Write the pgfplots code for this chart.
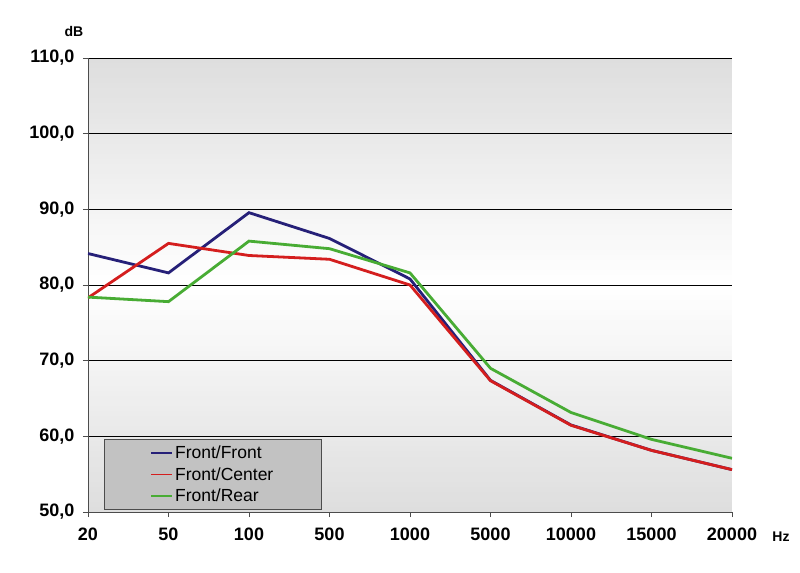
\documentclass[border=0pt]{standalone}
\usepackage{pgfplots}
\pgfplotsset{compat=1.18}
\usepackage{fontspec}
\setmainfont{Liberation Sans}
\definecolor{cnavy}{RGB}{38,32,120}
\definecolor{cred}{RGB}{212,30,30}
\definecolor{cgreen}{RGB}{72,172,52}
\definecolor{legfill}{RGB}{194,194,194}
\begin{document}
\begin{tikzpicture}
\path[use as bounding box] (-88bp,-61bp) rectangle (712bp,512bp);
\foreach \i in {0,...,89}{
  \pgfmathsetmacro{\t}{(\i+0.5)/90}
  \pgfmathsetmacro{\p}{13*abs(2*\t-1)}
  \pgfmathsetmacro{\ya}{\i*5.04444}
  \pgfmathsetmacro{\yb}{(\i+1.05)*5.04444}
  \fill[black!\p!white] (0bp,\ya bp) rectangle (644bp,\yb bp);
}
\begin{axis}[
  at={(0,0)}, anchor=south west,
  scale only axis, width=644bp, height=454bp,
  xmin=0, xmax=8, ymin=50, ymax=110,
  xtick={0,...,8},
  xticklabels={20,50,100,500,1000,5000,10000,15000,20000},
  ytick={50,60,...,110},
  axis x line*=bottom, axis y line*=left,
  axis line style={-, black!70, line width=0.8bp},
  tick align=outside,
  major tick length=5bp,
  tick style={black!70, line width=0.8bp},
  ymajorgrids,
  grid style={black, line width=0.7bp},
  /pgf/number format/.cd, fixed, fixed zerofill, precision=1, use comma, assume math mode=true,
  /pgfplots/.cd,
  ticklabel style={font=\fontsize{18bp}{20bp}\selectfont\bfseries},
  yticklabel style={xshift=-5bp},
  xticklabel style={yshift=-7bp},
  legend style={at={(axis description cs:0.025,0.005)}, anchor=south west,
    fill=legfill, draw=black!70, line width=0.8bp,
    font=\fontsize{17.5bp}{20bp}\selectfont,
    inner xsep=46bp, inner ysep=4bp, row sep=3.5bp},
  legend cell align=left,
  legend image code/.code={\draw[#1, line width=1.6bp] (0bp,0bp) -- (21bp,0bp);},
]
\addplot[cnavy, line width=2.8bp] coordinates {(0,84.16) (1,81.6) (2,89.56) (3,86.15) (4,80.8) (5,67.4) (6,61.5) (7,58.15) (8,55.6)};
\addplot[cred, line width=2.8bp] coordinates {(0,78.3) (1,85.5) (2,83.9) (3,83.4) (4,80.0) (5,67.35) (6,61.46) (7,58.14) (8,55.6)};
\addplot[cgreen, line width=2.8bp] coordinates {(0,78.4) (1,77.8) (2,85.8) (3,84.8) (4,81.6) (5,68.99) (6,63.15) (7,59.6) (8,57.1)};
\legend{Front/Front,Front/Center,Front/Rear}
\end{axis}
\node[font=\fontsize{14bp}{16bp}\selectfont\bfseries] at (-14bp,480bp) {dB};
\node[font=\fontsize{14bp}{16bp}\selectfont\bfseries] at (693bp,-25bp) {Hz};
\end{tikzpicture}
\end{document}
